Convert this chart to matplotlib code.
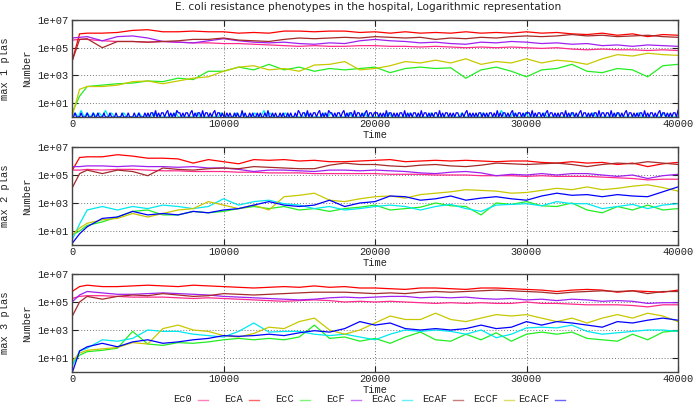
import numpy as np
import matplotlib
matplotlib.use("Agg")
import matplotlib.pyplot as plt
from matplotlib.lines import Line2D
from matplotlib.ticker import NullLocator

W, H = 696, 409
MONO = "Liberation Mono"

TITLE = "E. coli resistance phenotypes in the hospital, Logarithmic representation"
NAMES = ["Ec0", "EcA", "EcC", "EcF", "EcAC", "EcAF", "EcCF", "EcACF"]
COLORS = ["#ff2a8c", "#ff0000", "#22ee22", "#a020f0", "#00e8f0", "#a52a2a", "#c8c800", "#0000ff"]
PANEL_LABELS = ["max 1 plas", "max 2 plas", "max 3 plas"]

# sampling times (time units)
TIME = [0, 500] + list(range(1000, 40001, 1000))

# ---- max 1 plasmid : log10(number) ----
P1_EC0 = [5.55, 5.6, 5.6, 5.5, 5.45, 5.45, 5.4, 5.45, 5.4, 5.35, 5.35, 5.3, 5.3, 5.25, 5.2, 5.15, 5.1, 5.15, 5.1, 5.1, 5.15, 5.15,
          5.1, 5.1, 5.05, 5.1, 5.05, 5.0, 5.05, 5.0, 5.05, 5.0, 4.95, 5.0, 4.9, 4.85, 4.9, 4.85, 4.85, 4.8, 4.85, 4.8]
P1_ECA = [4.0, 6.0, 6.05, 6.05, 6.1, 6.25, 6.3, 6.15, 6.15, 6.2, 6.15, 6.15, 6.05, 6.1, 6.05, 6.2, 6.2, 6.15, 6.2, 6.2, 6.1, 6.15,
          6.05, 6.15, 6.05, 6.1, 6.05, 6.15, 6.05, 6.1, 6.05, 6.15, 6.05, 6.1, 6.0, 5.95, 6.05, 5.9, 6.0, 5.8, 5.95, 5.9]
P1_ECC = [0.3, 1.5, 2.2, 2.3, 2.4, 2.45, 2.6, 2.55, 2.8, 2.7, 3.3, 3.3, 3.6, 3.4, 3.8, 3.4, 3.6, 3.3, 3.5, 3.4, 3.5, 3.6,
          3.2, 3.5, 3.6, 3.5, 3.55, 2.8, 3.4, 3.6, 3.3, 2.9, 3.4, 3.5, 3.8, 3.3, 3.2, 3.5, 3.4, 2.9, 3.7, 3.8]
P1_ECF = [5.7, 5.75, 5.8, 5.5, 5.8, 5.85, 5.7, 5.45, 5.4, 5.35, 5.5, 5.65, 5.5, 5.4, 5.35, 5.4, 5.3, 5.25, 5.35, 5.3, 5.5, 5.6,
          5.5, 5.45, 5.35, 5.4, 5.3, 5.25, 5.4, 5.35, 5.45, 5.4, 5.3, 5.35, 5.25, 5.3, 5.15, 5.2, 5.1, 5.2, 5.15, 5.1]
P1_ECAF = [4.0, 5.6, 5.65, 5.0, 5.45, 5.45, 5.4, 5.45, 5.5, 5.6, 5.6, 5.7, 5.55, 5.5, 5.45, 5.6, 5.7, 5.65, 5.7, 5.75, 5.7, 5.8,
           5.75, 5.7, 5.75, 5.6, 5.7, 5.65, 5.75, 5.7, 5.8, 5.85, 5.8, 5.85, 5.95, 5.85, 5.9, 5.8, 5.85, 5.9, 5.8, 5.75]
P1_ECCF = [0.0, 2.0, 2.2, 2.2, 2.3, 2.55, 2.6, 2.4, 2.6, 2.8, 2.9, 3.3, 3.6, 3.7, 3.4, 3.5, 3.3, 3.75, 3.8, 4.0, 3.4, 3.5,
           3.7, 4.0, 3.9, 4.1, 3.9, 4.2, 3.8, 4.0, 3.9, 4.2, 3.9, 4.1, 4.0, 3.8, 4.2, 4.5, 4.4, 4.6, 4.5, 4.45]
# EcAC and EcACF stay at a handful of cells: raw counts, evenly spaced over the run
P1_ECAC_COUNTS = [int(c) for c in
                  "1213121212131211121111211112111111211111121111111211112121112113121111211111121111121211111211112111"
                  "1111211111121111112111111111211111121111131112111211111211111111211111121111111211111121111111211111"]
P1_ECACF_COUNTS = [int(c) for c in
                   "11211121112111211211121112111211121112111211211121"
                   "21221312122123121213221212212312122131221212312212"
                   "11212112121131211212112121121311212112121121211213"
                   "21221312122123121213221212212312122131221212312212"
                   "22121213122121212213121212212131221212122131212212"
                   "12122112123121212122121212212131212212123121221212"
                   "22131212212123122121212213121221212312212121221312"
                   "21221312122121231221212122131212212123122121212213"]

# ---- max 2 plasmids ----
P2_EC0 = [5.35, 5.35, 5.4, 5.35, 5.4, 5.4, 5.35, 5.3, 5.3, 5.25, 5.25, 5.25, 5.2, 5.2, 5.15, 5.15, 5.15, 5.1, 5.1, 5.1, 5.1, 5.1,
          5.05, 5.05, 5.05, 5.0, 5.0, 5.0, 4.95, 4.95, 4.95, 4.9, 4.95, 4.9, 4.9, 4.9, 4.85, 4.8, 4.75, 4.65, 4.7, 4.7]
P2_ECA = [5.3, 6.25, 6.3, 6.3, 6.45, 6.35, 6.2, 6.2, 6.15, 5.85, 6.1, 5.95, 5.8, 6.1, 6.05, 6.1, 6.0, 6.05, 5.95, 5.95, 6.0, 6.05,
          6.1, 5.95, 6.0, 6.05, 6.0, 6.05, 6.0, 5.95, 6.0, 6.0, 5.9, 5.85, 5.95, 5.85, 5.9, 5.75, 5.85, 5.6, 5.8, 5.9]
P2_ECC = [0.7, 1.0, 1.4, 1.65, 2.0, 2.4, 2.5, 2.15, 2.15, 2.4, 2.3, 2.4, 2.6, 2.75, 2.6, 2.75, 2.5, 2.6, 2.4, 2.6, 2.7, 2.85,
          2.5, 2.6, 2.7, 3.0, 2.8, 2.75, 2.15, 3.0, 2.9, 3.1, 2.8, 2.75, 3.0, 2.5, 2.3, 2.75, 2.5, 2.85, 2.5, 2.6]
P2_ECF = [5.6, 5.6, 5.65, 5.65, 5.6, 5.65, 5.6, 5.6, 5.55, 5.6, 5.5, 5.5, 5.4, 5.25, 5.35, 5.35, 5.3, 5.25, 5.35, 5.35, 5.3, 5.35,
          5.3, 5.25, 5.15, 5.1, 5.2, 5.25, 5.15, 4.95, 5.05, 5.0, 5.1, 5.0, 5.1, 5.1, 5.0, 4.9, 5.0, 4.75, 4.95, 5.05]
P2_ECAC = [0.35, 1.5, 2.5, 2.75, 2.5, 2.75, 2.6, 2.85, 2.75, 2.6, 2.75, 3.3, 2.85, 3.1, 3.2, 2.95, 2.85, 2.6, 2.75, 2.5, 2.6, 2.75,
           2.85, 2.75, 2.5, 2.75, 2.9, 2.6, 2.4, 2.85, 2.9, 2.95, 2.8, 3.1, 2.95, 2.95, 2.6, 2.75, 2.9, 2.6, 2.85, 2.95]
P2_ECAF = [4.05, 5.1, 5.35, 5.1, 5.35, 5.25, 4.95, 5.5, 5.4, 5.35, 5.45, 5.5, 5.45, 5.6, 5.55, 5.5, 5.45, 5.45, 5.7, 5.85, 5.75, 5.75,
           5.65, 5.6, 5.7, 5.75, 5.65, 5.6, 5.7, 5.85, 5.8, 5.75, 5.8, 5.85, 5.75, 5.6, 5.75, 5.85, 5.8, 5.95, 5.85, 5.75]
P2_ECCF = [0.7, 1.2, 1.55, 1.8, 1.9, 2.25, 2.0, 2.25, 2.5, 2.6, 3.1, 2.85, 2.6, 2.85, 2.5, 3.45, 3.55, 3.7, 3.2, 3.1, 3.3, 3.45,
           3.5, 3.35, 3.6, 3.7, 3.8, 3.95, 3.9, 3.85, 3.7, 3.75, 3.9, 4.05, 3.95, 4.15, 3.95, 4.05, 4.2, 4.3, 4.1, 3.85]
P2_ECACF = [0.1, 0.8, 1.3, 1.9, 2.0, 2.4, 2.15, 2.25, 2.15, 2.4, 2.3, 2.5, 2.6, 2.85, 3.1, 2.85, 2.75, 2.85, 3.2, 2.75, 3.0, 3.1,
            3.5, 3.45, 3.2, 3.3, 3.5, 3.2, 3.35, 3.45, 3.3, 3.2, 3.5, 3.7, 3.55, 3.6, 3.45, 3.6, 3.5, 3.45, 3.8, 4.15]

# ---- max 3 plasmids ----
P3_EC0 = [5.25, 5.4, 5.45, 5.45, 5.4, 5.35, 5.35, 5.35, 5.3, 5.25, 5.3, 5.25, 5.2, 5.15, 5.1, 5.05, 5.1, 5.15, 5.1, 5.0, 5.05, 5.0,
          5.05, 5.0, 4.95, 4.9, 4.95, 4.9, 4.95, 4.9, 4.9, 5.0, 4.9, 4.9, 4.85, 4.8, 4.8, 4.8, 4.75, 4.65, 4.8, 4.8]
P3_ECA = [5.75, 6.1, 6.2, 6.1, 6.1, 6.15, 6.2, 6.15, 6.1, 6.2, 6.15, 6.1, 6.05, 6.0, 6.05, 6.1, 6.05, 6.15, 6.05, 6.1, 6.0, 6.0,
          5.95, 5.9, 6.0, 6.0, 5.95, 5.9, 6.0, 6.0, 5.95, 5.9, 5.85, 5.75, 5.85, 5.9, 5.85, 5.7, 5.8, 5.75, 5.7, 5.85]
P3_ECC = [0.6, 1.2, 1.45, 1.55, 1.7, 2.9, 2.0, 1.9, 2.1, 2.05, 2.15, 2.3, 2.4, 2.3, 2.4, 2.3, 2.5, 3.35, 2.4, 2.5, 2.2, 2.4,
          2.05, 2.5, 2.85, 2.3, 2.2, 2.7, 2.3, 2.8, 2.2, 2.7, 2.85, 2.7, 2.85, 2.4, 2.3, 2.2, 2.7, 2.3, 2.85, 2.95]
P3_ECF = [5.0, 5.5, 5.75, 5.65, 5.55, 5.55, 5.6, 5.65, 5.6, 5.55, 5.5, 5.4, 5.35, 5.3, 5.25, 5.2, 5.15, 5.2, 5.3, 5.35, 5.3, 5.35,
          5.4, 5.4, 5.3, 5.35, 5.3, 5.35, 5.25, 5.2, 5.25, 5.15, 5.2, 5.1, 5.2, 5.15, 5.05, 5.1, 5.05, 4.9, 4.95, 4.95]
P3_ECAC = [0.4, 1.5, 1.7, 2.3, 2.2, 2.4, 3.0, 2.9, 2.9, 2.7, 2.6, 2.5, 2.9, 3.5, 2.85, 2.9, 2.9, 2.7, 2.6, 2.7, 2.5, 2.3,
           2.7, 3.0, 2.9, 3.0, 2.9, 2.7, 3.0, 2.45, 2.7, 3.15, 3.2, 3.15, 3.35, 2.9, 2.7, 2.8, 2.9, 3.0, 3.0, 2.9]
P3_ECAF = [3.95, 5.0, 5.4, 5.2, 5.4, 5.5, 5.45, 5.6, 5.5, 5.4, 5.45, 5.6, 5.55, 5.5, 5.55, 5.6, 5.65, 5.7, 5.7, 5.7, 5.65, 5.6,
           5.65, 5.6, 5.7, 5.75, 5.7, 5.75, 5.8, 5.85, 5.8, 5.75, 5.7, 5.6, 5.7, 5.75, 5.8, 5.75, 5.8, 5.6, 5.75, 5.75]
P3_ECCF = [0.75, 1.35, 1.55, 1.65, 1.75, 2.1, 2.0, 3.1, 3.35, 3.0, 2.9, 2.6, 2.5, 2.75, 3.2, 3.1, 3.6, 3.85, 3.0, 2.7, 3.0, 3.5,
           4.0, 3.75, 3.75, 4.2, 3.75, 3.6, 3.85, 4.1, 4.0, 4.1, 3.85, 3.6, 3.85, 3.5, 3.85, 4.1, 3.85, 4.2, 4.0, 3.6]
P3_ECACF = [-0.1, 1.5, 1.8, 2.05, 1.8, 2.15, 2.3, 2.05, 2.15, 2.3, 2.4, 2.6, 2.55, 2.6, 2.7, 2.6, 2.8, 2.95, 2.85, 3.1, 3.6, 3.35,
            3.5, 3.1, 3.0, 3.1, 3.0, 3.1, 3.35, 3.1, 3.2, 3.6, 3.35, 3.6, 3.5, 3.35, 3.2, 3.6, 3.5, 3.7, 3.85, 3.7]


def from_log(vals):
    return 10 ** np.array(vals, dtype=float)


def spikes(counts):
    return np.linspace(0, 40000, len(counts)), np.array(counts, dtype=float)


t = np.array(TIME, dtype=float)
panels = [
    [(t, from_log(P1_EC0)), (t, from_log(P1_ECA)), (t, from_log(P1_ECC)), (t, from_log(P1_ECF)),
     spikes(P1_ECAC_COUNTS), (t, from_log(P1_ECAF)), (t, from_log(P1_ECCF)), spikes(P1_ECACF_COUNTS)],
    [(t, from_log(v)) for v in (P2_EC0, P2_ECA, P2_ECC, P2_ECF, P2_ECAC, P2_ECAF, P2_ECCF, P2_ECACF)],
    [(t, from_log(v)) for v in (P3_EC0, P3_ECA, P3_ECC, P3_ECF, P3_ECAC, P3_ECAF, P3_ECCF, P3_ECACF)],
]

# panel frames in pixels: (top, bottom)
frames = [(20, 117), (147, 245), (274, 372)]
left_px, right_px = 72, 678

fig = plt.figure(figsize=(W / 100, H / 100), dpi=100)

for k, (series, (top, bot)) in enumerate(zip(panels, frames)):
    ax = fig.add_axes([left_px / W, 1 - bot / H, (right_px - left_px) / W, (bot - top) / H])
    for (x, y), c in zip(series, COLORS):
        ax.plot(x, y, color=c, lw=0.9, solid_joinstyle="miter")
    ax.set_yscale("log")
    ax.set_xlim(0, 40000)
    ax.set_ylim(1, 1e7)
    ax.set_xticks([0, 10000, 20000, 30000, 40000])
    ax.set_yticks([1e1, 1e3, 1e5, 1e7])
    ax.set_yticklabels(["1e+01", "1e+03", "1e+05", "1e+07"])
    ax.yaxis.set_minor_locator(NullLocator())
    ax.tick_params(direction="in", length=4, width=0.8, top=True, right=True, labelsize=7.5, pad=2.5,
                   colors="#222222")
    ax.tick_params(axis="x", pad=1.2)
    for lab in ax.get_xticklabels() + ax.get_yticklabels():
        lab.set_fontfamily(MONO)
    ax.grid(True, which="major", linestyle=(0, (1, 2)), color="#777777", lw=0.7)
    for s in ax.spines.values():
        s.set_color("#444444")
        s.set_linewidth(1.0)
    ax.set_xlabel("Time", fontfamily=MONO, fontsize=7.5, color="#222222")
    ax.xaxis.set_label_coords(0.5, -(13 / (bot - top)))
    ax.set_ylabel("Number", fontfamily=MONO, fontsize=7.5, color="#222222")
    ax.yaxis.set_label_coords(-(left_px - 32) / (right_px - left_px), 0.5)
    fig.text(5 / W, 1 - ((top + bot) / 2) / H, PANEL_LABELS[k], rotation=90, ha="center", va="center",
             fontfamily=MONO, fontsize=7.5, color="#222222")

fig.text(368 / W, 1 - 7 / H, TITLE, ha="center", va="center", fontsize=7.6, color="#222222")

# key along the bottom, gnuplot style: right-justified text then a short sample
ky = 1 - 399.5 / H
for i, (name, c) in enumerate(zip(NAMES, COLORS)):
    xs = 198 + i * 51
    fig.add_artist(Line2D([xs / W, (xs + 10) / W], [ky, ky], color=c, lw=1.0, alpha=0.6,
                          transform=fig.transFigure))
    fig.text((xs - 6) / W, ky, name, ha="right", va="center", fontfamily=MONO, fontsize=7.5, color="#222222")

fig.savefig("out.png", dpi=100)
